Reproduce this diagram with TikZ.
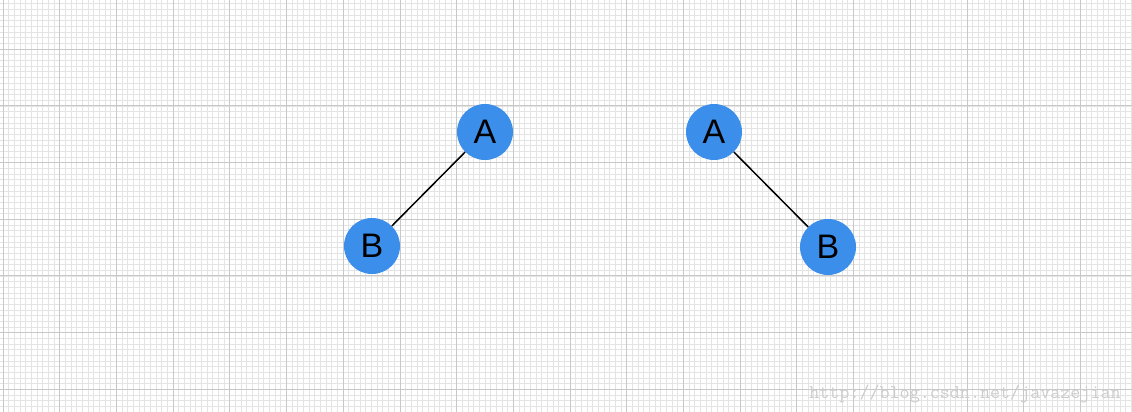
\documentclass[tikz,border=0pt]{standalone}
\usepackage{fontspec}
\setmainfont{Liberation Sans}
\usetikzlibrary{positioning}
\definecolor{nodeblue}{RGB}{59,142,234}
\definecolor{minorgrid}{RGB}{228,228,228}
\definecolor{majorgrid}{RGB}{200,200,200}
\tikzset{
  treenode/.style={circle, fill=nodeblue, minimum size=56pt, inner sep=0pt,
    font=\fontsize{34}{40}\selectfont},
  treeedge/.style={black, line width=1.5pt},
}

\begin{document}
\begin{tikzpicture}[x=1pt,y=1pt]
\useasboundingbox (0,0) rectangle (1132,412);
\clip (0,0) rectangle (1132,412);
% background grid
\foreach \i in {0,...,201}
  \draw[minorgrid, line width=0.8pt] (-2.67+\i*5.67,0) -- (-2.67+\i*5.67,412);
\foreach \i in {0,...,78}
  \draw[minorgrid, line width=0.8pt] (0,-0.1+\i*5.67) -- (1132,-0.1+\i*5.67);
\foreach \i in {0,...,20}
  \draw[majorgrid, line width=0.8pt] (3+\i*56.7,0) -- (3+\i*56.7,412);
\foreach \i in {0,...,7}
  \draw[majorgrid, line width=0.8pt] (0,22.8+\i*56.7) -- (1132,22.8+\i*56.7);

% left tree
\node[treenode] (leftA) at (485,280) {A};
\node[treenode] (leftB) at (372,166) {B};
\draw[treeedge] (leftA) -- (leftB);

% right tree
\node[treenode] (rightA) at (714,280) {A};
\node[treenode] (rightB) at (828,165) {B};
\draw[treeedge] (rightA) -- (rightB);

% watermark
\node[text=black!20, font=\ttfamily\fontsize{19.5}{22}\selectfont] (mark) at (965,18) {http://blog.csdn.net/javazejian};
\end{tikzpicture}
\end{document}
